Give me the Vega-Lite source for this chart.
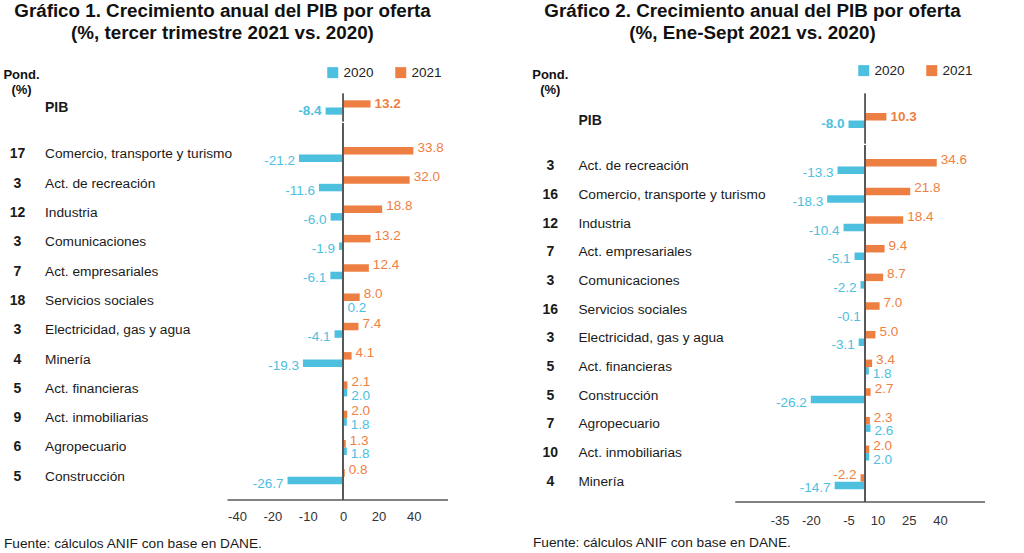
{
  "$schema": "https://vega.github.io/schema/vega-lite/v6.json",
  "background": "white",
  "padding": {"left": 3, "top": 1.5, "right": 0, "bottom": 0},
  "datasets": {
    "g1": [
      {"sector": "PIB", "pond": "", "year": "2020", "value": -8.4},
      {"sector": "PIB", "pond": "", "year": "2021", "value": 13.2},
      {"sector": "Comercio, transporte y turismo", "pond": "17", "year": "2020", "value": -21.2},
      {"sector": "Comercio, transporte y turismo", "pond": "17", "year": "2021", "value": 33.8},
      {"sector": "Act. de recreación", "pond": "3", "year": "2020", "value": -11.6},
      {"sector": "Act. de recreación", "pond": "3", "year": "2021", "value": 32.0},
      {"sector": "Industria", "pond": "12", "year": "2020", "value": -6.0},
      {"sector": "Industria", "pond": "12", "year": "2021", "value": 18.8},
      {"sector": "Comunicaciones", "pond": "3", "year": "2020", "value": -1.9},
      {"sector": "Comunicaciones", "pond": "3", "year": "2021", "value": 13.2},
      {"sector": "Act. empresariales", "pond": "7", "year": "2020", "value": -6.1},
      {"sector": "Act. empresariales", "pond": "7", "year": "2021", "value": 12.4},
      {"sector": "Servicios sociales", "pond": "18", "year": "2020", "value": 0.2},
      {"sector": "Servicios sociales", "pond": "18", "year": "2021", "value": 8.0},
      {"sector": "Electricidad, gas y agua", "pond": "3", "year": "2020", "value": -4.1},
      {"sector": "Electricidad, gas y agua", "pond": "3", "year": "2021", "value": 7.4},
      {"sector": "Minería", "pond": "4", "year": "2020", "value": -19.3},
      {"sector": "Minería", "pond": "4", "year": "2021", "value": 4.1},
      {"sector": "Act. financieras", "pond": "5", "year": "2020", "value": 2.0},
      {"sector": "Act. financieras", "pond": "5", "year": "2021", "value": 2.1},
      {"sector": "Act. inmobiliarias", "pond": "9", "year": "2020", "value": 1.8},
      {"sector": "Act. inmobiliarias", "pond": "9", "year": "2021", "value": 2.0},
      {"sector": "Agropecuario", "pond": "6", "year": "2020", "value": 1.8},
      {"sector": "Agropecuario", "pond": "6", "year": "2021", "value": 1.3},
      {"sector": "Construcción", "pond": "5", "year": "2020", "value": -26.7},
      {"sector": "Construcción", "pond": "5", "year": "2021", "value": 0.8}
    ],
    "g2": [
      {"sector": "PIB", "pond": "", "year": "2020", "value": -8.0},
      {"sector": "PIB", "pond": "", "year": "2021", "value": 10.3},
      {"sector": "Act. de recreación", "pond": "3", "year": "2020", "value": -13.3},
      {"sector": "Act. de recreación", "pond": "3", "year": "2021", "value": 34.6},
      {"sector": "Comercio, transporte y turismo", "pond": "16", "year": "2020", "value": -18.3},
      {"sector": "Comercio, transporte y turismo", "pond": "16", "year": "2021", "value": 21.8},
      {"sector": "Industria", "pond": "12", "year": "2020", "value": -10.4},
      {"sector": "Industria", "pond": "12", "year": "2021", "value": 18.4},
      {"sector": "Act. empresariales", "pond": "7", "year": "2020", "value": -5.1},
      {"sector": "Act. empresariales", "pond": "7", "year": "2021", "value": 9.4},
      {"sector": "Comunicaciones", "pond": "3", "year": "2020", "value": -2.2},
      {"sector": "Comunicaciones", "pond": "3", "year": "2021", "value": 8.7},
      {"sector": "Servicios sociales", "pond": "16", "year": "2020", "value": -0.1},
      {"sector": "Servicios sociales", "pond": "16", "year": "2021", "value": 7.0},
      {"sector": "Electricidad, gas y agua", "pond": "3", "year": "2020", "value": -3.1},
      {"sector": "Electricidad, gas y agua", "pond": "3", "year": "2021", "value": 5.0},
      {"sector": "Act. financieras", "pond": "5", "year": "2020", "value": 1.8},
      {"sector": "Act. financieras", "pond": "5", "year": "2021", "value": 3.4},
      {"sector": "Construcción", "pond": "5", "year": "2020", "value": -26.2},
      {"sector": "Construcción", "pond": "5", "year": "2021", "value": 2.7},
      {"sector": "Agropecuario", "pond": "7", "year": "2020", "value": 2.6},
      {"sector": "Agropecuario", "pond": "7", "year": "2021", "value": 2.3},
      {"sector": "Act. inmobiliarias", "pond": "10", "year": "2020", "value": 2.0},
      {"sector": "Act. inmobiliarias", "pond": "10", "year": "2021", "value": 2.0},
      {"sector": "Minería", "pond": "4", "year": "2020", "value": -14.7},
      {"sector": "Minería", "pond": "4", "year": "2021", "value": -2.2}
    ]
  },
  "spacing": 84,
  "resolve": {"scale": {"color": "independent", "yOffset": "independent"}, "legend": {"color": "independent"}},
  "hconcat": [
    {
      "title": {"text": ["Gráfico 1. Crecimiento anual del PIB por oferta", "(%, tercer trimestre 2021 vs. 2020)"], "fontSize": 18.8, "lineHeight": 22, "fontWeight": "bold", "color": "#111111", "anchor": "middle", "offset": 22.5, "dx": -3},
      "spacing": 0,
      "resolve": {"scale": {"yOffset": "independent"}},
      "vconcat": [
        {
          "spacing": 14,
          "bounds": "flush",
          "hconcat": [
            {
              "width": 27, "height": 28,
              "data": {"name": "g1"},
              "transform": [{"filter": "datum.sector == 'PIB' && datum.year == '2021'"}],
              "title": {"text": ["Pond.", "(%)"], "fontSize": 13, "lineHeight": 15, "fontWeight": "bold", "color": "#111111", "anchor": "middle", "offset": -3, "dx": 4},
              "mark": {"type": "text", "fontSize": 14, "fontWeight": "bold", "color": "#1a1a1a", "baseline": "middle"},
              "encoding": {
                "y": {"field": "sector", "type": "nominal", "sort": null, "axis": null, "scale": {"type": "band", "paddingInner": 0, "paddingOuter": 0}},
                "text": {"field": "pond", "type": "nominal"}
              }
            },
            {
              "width": 168, "height": 28,
              "data": {"name": "g1"},
              "transform": [{"filter": "datum.sector == 'PIB' && datum.year == '2021'"}],
              "mark": {"type": "text", "fontSize": 14, "fontWeight": "bold", "color": "#1a1a1a", "align": "left", "baseline": "middle"},
              "encoding": {
                "x": {"datum": 0, "type": "quantitative", "scale": {"domain": [0, 1]}, "axis": null},
                "y": {"field": "sector", "type": "nominal", "sort": null, "axis": null, "scale": {"type": "band", "paddingInner": 0, "paddingOuter": 0}},
                "text": {"field": "sector", "type": "nominal"}
              }
            },
            {
              "width": 220.5, "height": 28,
              "data": {"name": "g1"},
              "transform": [{"filter": "datum.sector == 'PIB'"}],
              "layer": [
                {
                  "mark": {"type": "bar"},
                  "encoding": {
                    "x": {"field": "value", "type": "quantitative", "scale": {"domain": [-55.8, 50.2], "nice": false, "zero": false}, "axis": null},
                    "y": {"field": "sector", "type": "nominal", "sort": null, "axis": null, "scale": {"type": "band", "paddingInner": 0, "paddingOuter": 0}},
                    "yOffset": {"field": "year", "type": "nominal", "sort": ["2021", "2020"], "scale": {"paddingInner": 0, "paddingOuter": 0.95}},
                    "color": {"field": "year", "type": "nominal", "scale": {"domain": ["2020", "2021"], "range": ["#4DC0E0", "#EE7F42"]},
                      "legend": {"orient": "none", "legendX": 322, "legendY": -28, "direction": "horizontal", "title": null, "symbolType": "square", "symbolSize": 121, "symbolStrokeWidth": 0, "labelFontSize": 13.5, "labelColor": "#222222", "labelOffset": 4, "columnPadding": 20}}
                  }
                },
                {
                  "transform": [{"filter": "datum.value >= 0"}],
                  "mark": {"type": "text", "align": "left", "dx": 4, "baseline": "middle", "fontSize": 13.5, "fontWeight": "bold"},
                  "encoding": {
                    "x": {"field": "value", "type": "quantitative"},
                    "y": {"field": "sector", "type": "nominal", "sort": null},
                    "yOffset": {"field": "year", "type": "nominal", "sort": ["2021", "2020"]},
                    "text": {"field": "value", "type": "quantitative", "format": ".1f"},
                    "color": {"field": "year", "type": "nominal", "legend": null}
                  }
                },
                {
                  "transform": [{"filter": "datum.value < 0"}],
                  "mark": {"type": "text", "align": "right", "dx": -4, "baseline": "middle", "fontSize": 13.5, "fontWeight": "bold"},
                  "encoding": {
                    "x": {"field": "value", "type": "quantitative"},
                    "y": {"field": "sector", "type": "nominal", "sort": null},
                    "yOffset": {"field": "year", "type": "nominal", "sort": ["2021", "2020"]},
                    "text": {"field": "value", "type": "quantitative", "format": ".1f"},
                    "color": {"field": "year", "type": "nominal", "legend": null}
                  }
                },
                {
                  "mark": {"type": "rule", "color": "#595959", "strokeWidth": 1.5},
                  "encoding": {"x": {"datum": 0, "type": "quantitative"}}
                }
              ]
            }
          ]
        },
        {
          "spacing": 14,
          "bounds": "flush",
          "title": {"text": "Fuente: cálculos ANIF con base en DANE.", "orient": "bottom", "anchor": "start", "frame": "group", "fontSize": 13.7, "fontWeight": "normal", "color": "#1a1a1a", "offset": 14},
          "hconcat": [
            {
              "width": 27, "height": 376,
              "data": {"name": "g1"},
              "transform": [{"filter": "datum.sector != 'PIB' && datum.year == '2021'"}],
              "mark": {"type": "text", "fontSize": 14, "fontWeight": "bold", "color": "#1a1a1a", "baseline": "middle"},
              "encoding": {
                "y": {"field": "sector", "type": "nominal", "sort": null, "axis": null, "scale": {"type": "band", "paddingInner": 0, "paddingOuter": 0.4164, "align": 0.67}},
                "text": {"field": "pond", "type": "nominal"}
              }
            },
            {
              "width": 168, "height": 376,
              "data": {"name": "g1"},
              "transform": [{"filter": "datum.sector != 'PIB' && datum.year == '2021'"}],
              "mark": {"type": "text", "fontSize": 13.7, "color": "#1a1a1a", "align": "left", "baseline": "middle"},
              "encoding": {
                "x": {"datum": 0, "type": "quantitative", "scale": {"domain": [0, 1]}, "axis": null},
                "y": {"field": "sector", "type": "nominal", "sort": null, "axis": null, "scale": {"type": "band", "paddingInner": 0, "paddingOuter": 0.4164, "align": 0.67}},
                "text": {"field": "sector", "type": "nominal"}
              }
            },
            {
              "width": 220.5, "height": 376,
              "data": {"name": "g1"},
              "transform": [{"filter": "datum.sector != 'PIB'"}],
              "layer": [
                {
                  "mark": {"type": "bar"},
                  "encoding": {
                    "x": {"field": "value", "type": "quantitative", "scale": {"domain": [-55.8, 50.2], "nice": false, "zero": false},
                      "axis": {"values": [-51, -34, -17, 0, 17, 34], "labelExpr": "datum.value == -51 ? '-40' : datum.value == -34 ? '-20' : datum.value == -17 ? '-10' : datum.value == 17 ? '20' : datum.value == 34 ? '40' : '0'", "title": null, "ticks": false, "tickSize": 0, "grid": false, "domainColor": "#595959", "domainWidth": 1.5, "labelFontSize": 13, "labelColor": "#333333", "labelPadding": 10.7, "labelFlush": false, "labelOverlap": false}},
                    "y": {"field": "sector", "type": "nominal", "sort": null, "axis": null, "scale": {"type": "band", "paddingInner": 0, "paddingOuter": 0.4164, "align": 0.67}},
                    "yOffset": {"field": "year", "type": "nominal", "sort": ["2021", "2020"], "scale": {"paddingInner": 0, "paddingOuter": 0.95}},
                    "color": {"field": "year", "type": "nominal", "scale": {"domain": ["2020", "2021"], "range": ["#4DC0E0", "#EE7F42"]},
                      "legend": {"orient": "none", "legendX": 322, "legendY": -28, "direction": "horizontal", "title": null, "symbolType": "square", "symbolSize": 121, "symbolStrokeWidth": 0, "labelFontSize": 13.5, "labelColor": "#222222", "labelOffset": 4, "columnPadding": 20}}
                  }
                },
                {
                  "transform": [{"filter": "datum.value >= 0 && datum.year == '2021'"}],
                  "mark": {"type": "text", "align": "left", "dx": 4, "dy": -3, "baseline": "middle", "fontSize": 13.5},
                  "encoding": {
                    "x": {"field": "value", "type": "quantitative"},
                    "y": {"field": "sector", "type": "nominal", "sort": null},
                    "yOffset": {"field": "year", "type": "nominal", "sort": ["2021", "2020"]},
                    "text": {"field": "value", "type": "quantitative", "format": ".1f"},
                    "color": {"field": "year", "type": "nominal", "legend": null}
                  }
                },
                {
                  "transform": [{"filter": "datum.value >= 0 && datum.year == '2020'"}],
                  "mark": {"type": "text", "align": "left", "dx": 4, "dy": 3, "baseline": "middle", "fontSize": 13.5},
                  "encoding": {
                    "x": {"field": "value", "type": "quantitative"},
                    "y": {"field": "sector", "type": "nominal", "sort": null},
                    "yOffset": {"field": "year", "type": "nominal", "sort": ["2021", "2020"]},
                    "text": {"field": "value", "type": "quantitative", "format": ".1f"},
                    "color": {"field": "year", "type": "nominal", "legend": null}
                  }
                },
                {
                  "transform": [{"filter": "datum.value < 0 && datum.year == '2021'"}],
                  "mark": {"type": "text", "align": "right", "dx": -4, "dy": -3, "baseline": "middle", "fontSize": 13.5},
                  "encoding": {
                    "x": {"field": "value", "type": "quantitative"},
                    "y": {"field": "sector", "type": "nominal", "sort": null},
                    "yOffset": {"field": "year", "type": "nominal", "sort": ["2021", "2020"]},
                    "text": {"field": "value", "type": "quantitative", "format": ".1f"},
                    "color": {"field": "year", "type": "nominal", "legend": null}
                  }
                },
                {
                  "transform": [{"filter": "datum.value < 0 && datum.year == '2020'"}],
                  "mark": {"type": "text", "align": "right", "dx": -4, "dy": 3, "baseline": "middle", "fontSize": 13.5},
                  "encoding": {
                    "x": {"field": "value", "type": "quantitative"},
                    "y": {"field": "sector", "type": "nominal", "sort": null},
                    "yOffset": {"field": "year", "type": "nominal", "sort": ["2021", "2020"]},
                    "text": {"field": "value", "type": "quantitative", "format": ".1f"},
                    "color": {"field": "year", "type": "nominal", "legend": null}
                  }
                },
                {
                  "mark": {"type": "rule", "color": "#595959", "strokeWidth": 1.5},
                  "encoding": {"x": {"datum": 0, "type": "quantitative"}}
                }
              ]
            }
          ]
        }
      ]
    },
    {
      "title": {"text": ["Gráfico 2. Crecimiento anual del PIB por oferta", "(%, Ene-Sept 2021 vs. 2020)"], "fontSize": 18.8, "lineHeight": 22, "fontWeight": "bold", "color": "#111111", "anchor": "middle", "offset": 20.5, "dx": -6},
      "spacing": 0,
      "resolve": {"scale": {"yOffset": "independent"}},
      "vconcat": [
        {
          "spacing": 10.4,
          "bounds": "flush",
          "hconcat": [
            {
              "width": 34.6, "height": 50,
              "data": {"name": "g2"},
              "transform": [{"filter": "datum.sector == 'PIB' && datum.year == '2021'"}],
              "title": {"text": ["Pond.", "(%)"], "fontSize": 13, "lineHeight": 15, "fontWeight": "bold", "color": "#111111", "anchor": "middle", "offset": -3},
              "mark": {"type": "text", "fontSize": 14, "fontWeight": "bold", "color": "#1a1a1a", "baseline": "middle"},
              "encoding": {
                "y": {"field": "sector", "type": "nominal", "sort": null, "axis": null, "scale": {"type": "band", "paddingInner": 0, "paddingOuter": 0.3723, "align": 0.594}},
                "text": {"field": "pond", "type": "nominal"}
              }
            },
            {
              "width": 146, "height": 50,
              "data": {"name": "g2"},
              "transform": [{"filter": "datum.sector == 'PIB' && datum.year == '2021'"}],
              "mark": {"type": "text", "fontSize": 14, "fontWeight": "bold", "color": "#1a1a1a", "align": "left", "baseline": "middle"},
              "encoding": {
                "x": {"datum": 0, "type": "quantitative", "scale": {"domain": [0, 1]}, "axis": null},
                "y": {"field": "sector", "type": "nominal", "sort": null, "axis": null, "scale": {"type": "band", "paddingInner": 0, "paddingOuter": 0.3723, "align": 0.594}},
                "text": {"field": "sector", "type": "nominal"}
              }
            },
            {
              "width": 250, "height": 50,
              "data": {"name": "g2"},
              "transform": [{"filter": "datum.sector == 'PIB'"}],
              "layer": [
                {
                  "mark": {"type": "bar"},
                  "encoding": {
                    "x": {"field": "value", "type": "quantitative", "scale": {"domain": [-62.9, 57.8], "nice": false, "zero": false}, "axis": null},
                    "y": {"field": "sector", "type": "nominal", "sort": null, "axis": null, "scale": {"type": "band", "paddingInner": 0, "paddingOuter": 0.3723, "align": 0.594}},
                    "yOffset": {"field": "year", "type": "nominal", "sort": ["2021", "2020"], "scale": {"paddingInner": 0, "paddingOuter": 0.91}},
                    "color": {"field": "year", "type": "nominal", "scale": {"domain": ["2020", "2021"], "range": ["#4DC0E0", "#EE7F42"]},
                      "legend": {"orient": "none", "legendX": 324, "legendY": -30, "direction": "horizontal", "title": null, "symbolType": "square", "symbolSize": 121, "symbolStrokeWidth": 0, "labelFontSize": 13.5, "labelColor": "#222222", "labelOffset": 4, "columnPadding": 20}}
                  }
                },
                {
                  "transform": [{"filter": "datum.value >= 0"}],
                  "mark": {"type": "text", "align": "left", "dx": 4, "baseline": "middle", "fontSize": 13.5, "fontWeight": "bold"},
                  "encoding": {
                    "x": {"field": "value", "type": "quantitative"},
                    "y": {"field": "sector", "type": "nominal", "sort": null},
                    "yOffset": {"field": "year", "type": "nominal", "sort": ["2021", "2020"]},
                    "text": {"field": "value", "type": "quantitative", "format": ".1f"},
                    "color": {"field": "year", "type": "nominal", "legend": null}
                  }
                },
                {
                  "transform": [{"filter": "datum.value < 0"}],
                  "mark": {"type": "text", "align": "right", "dx": -4, "baseline": "middle", "fontSize": 13.5, "fontWeight": "bold"},
                  "encoding": {
                    "x": {"field": "value", "type": "quantitative"},
                    "y": {"field": "sector", "type": "nominal", "sort": null},
                    "yOffset": {"field": "year", "type": "nominal", "sort": ["2021", "2020"]},
                    "text": {"field": "value", "type": "quantitative", "format": ".1f"},
                    "color": {"field": "year", "type": "nominal", "legend": null}
                  }
                },
                {
                  "mark": {"type": "rule", "color": "#595959", "strokeWidth": 1.5},
                  "encoding": {"x": {"datum": 0, "type": "quantitative"}}
                }
              ]
            }
          ]
        },
        {
          "spacing": 10.4,
          "bounds": "flush",
          "title": {"text": "Fuente: cálculos ANIF con base en DANE.", "orient": "bottom", "anchor": "start", "frame": "group", "fontSize": 13.7, "fontWeight": "normal", "color": "#1a1a1a", "offset": 9},
          "hconcat": [
            {
              "width": 34.6, "height": 356,
              "data": {"name": "g2"},
              "transform": [{"filter": "datum.sector != 'PIB' && datum.year == '2021'"}],
              "mark": {"type": "text", "fontSize": 14, "fontWeight": "bold", "color": "#1a1a1a", "baseline": "middle"},
              "encoding": {
                "y": {"field": "sector", "type": "nominal", "sort": null, "axis": null, "scale": {"type": "band", "paddingInner": 0, "paddingOuter": 0.211, "align": 0.55}},
                "text": {"field": "pond", "type": "nominal"}
              }
            },
            {
              "width": 146, "height": 356,
              "data": {"name": "g2"},
              "transform": [{"filter": "datum.sector != 'PIB' && datum.year == '2021'"}],
              "mark": {"type": "text", "fontSize": 13.7, "color": "#1a1a1a", "align": "left", "baseline": "middle"},
              "encoding": {
                "x": {"datum": 0, "type": "quantitative", "scale": {"domain": [0, 1]}, "axis": null},
                "y": {"field": "sector", "type": "nominal", "sort": null, "axis": null, "scale": {"type": "band", "paddingInner": 0, "paddingOuter": 0.211, "align": 0.55}},
                "text": {"field": "sector", "type": "nominal"}
              }
            },
            {
              "width": 250, "height": 356,
              "data": {"name": "g2"},
              "transform": [{"filter": "datum.sector != 'PIB'"}],
              "layer": [
                {
                  "mark": {"type": "bar"},
                  "encoding": {
                    "x": {"field": "value", "type": "quantitative", "scale": {"domain": [-62.9, 57.8], "nice": false, "zero": false},
                      "axis": {"values": [-41.3, -26.2, -8, 6, 21.1, 36.2], "labelExpr": "datum.value == -41.3 ? '-35' : datum.value == -26.2 ? '-20' : datum.value == -8 ? '-5' : datum.value == 6 ? '10' : datum.value == 21.1 ? '25' : '40'", "title": null, "ticks": false, "tickSize": 0, "grid": false, "domainColor": "#595959", "domainWidth": 1.5, "labelFontSize": 13, "labelColor": "#333333", "labelPadding": 12.7, "labelFlush": false, "labelOverlap": false}},
                    "y": {"field": "sector", "type": "nominal", "sort": null, "axis": null, "scale": {"type": "band", "paddingInner": 0, "paddingOuter": 0.211, "align": 0.55}},
                    "yOffset": {"field": "year", "type": "nominal", "sort": ["2021", "2020"], "scale": {"paddingInner": 0, "paddingOuter": 0.91}},
                    "color": {"field": "year", "type": "nominal", "scale": {"domain": ["2020", "2021"], "range": ["#4DC0E0", "#EE7F42"]},
                      "legend": {"orient": "none", "legendX": 324, "legendY": -30, "direction": "horizontal", "title": null, "symbolType": "square", "symbolSize": 121, "symbolStrokeWidth": 0, "labelFontSize": 13.5, "labelColor": "#222222", "labelOffset": 4, "columnPadding": 20}}
                  }
                },
                {
                  "transform": [{"filter": "datum.value >= 0 && datum.year == '2021'"}],
                  "mark": {"type": "text", "align": "left", "dx": 4, "dy": -3, "baseline": "middle", "fontSize": 13.5},
                  "encoding": {
                    "x": {"field": "value", "type": "quantitative"},
                    "y": {"field": "sector", "type": "nominal", "sort": null},
                    "yOffset": {"field": "year", "type": "nominal", "sort": ["2021", "2020"]},
                    "text": {"field": "value", "type": "quantitative", "format": ".1f"},
                    "color": {"field": "year", "type": "nominal", "legend": null}
                  }
                },
                {
                  "transform": [{"filter": "datum.value >= 0 && datum.year == '2020'"}],
                  "mark": {"type": "text", "align": "left", "dx": 4, "dy": 3, "baseline": "middle", "fontSize": 13.5},
                  "encoding": {
                    "x": {"field": "value", "type": "quantitative"},
                    "y": {"field": "sector", "type": "nominal", "sort": null},
                    "yOffset": {"field": "year", "type": "nominal", "sort": ["2021", "2020"]},
                    "text": {"field": "value", "type": "quantitative", "format": ".1f"},
                    "color": {"field": "year", "type": "nominal", "legend": null}
                  }
                },
                {
                  "transform": [{"filter": "datum.value < 0 && datum.year == '2021'"}],
                  "mark": {"type": "text", "align": "right", "dx": -4, "dy": -3, "baseline": "middle", "fontSize": 13.5},
                  "encoding": {
                    "x": {"field": "value", "type": "quantitative"},
                    "y": {"field": "sector", "type": "nominal", "sort": null},
                    "yOffset": {"field": "year", "type": "nominal", "sort": ["2021", "2020"]},
                    "text": {"field": "value", "type": "quantitative", "format": ".1f"},
                    "color": {"field": "year", "type": "nominal", "legend": null}
                  }
                },
                {
                  "transform": [{"filter": "datum.value < 0 && datum.year == '2020'"}],
                  "mark": {"type": "text", "align": "right", "dx": -4, "dy": 3, "baseline": "middle", "fontSize": 13.5},
                  "encoding": {
                    "x": {"field": "value", "type": "quantitative"},
                    "y": {"field": "sector", "type": "nominal", "sort": null},
                    "yOffset": {"field": "year", "type": "nominal", "sort": ["2021", "2020"]},
                    "text": {"field": "value", "type": "quantitative", "format": ".1f"},
                    "color": {"field": "year", "type": "nominal", "legend": null}
                  }
                },
                {
                  "mark": {"type": "rule", "color": "#595959", "strokeWidth": 1.5},
                  "encoding": {"x": {"datum": 0, "type": "quantitative"}}
                }
              ]
            }
          ]
        }
      ]
    }
  ],
  "config": {
    "font": "Liberation Sans",
    "view": {"stroke": null},
    "axis": {"grid": false},
    "locale": {"number": {"decimal": ".", "thousands": ",", "grouping": [3], "currency": ["$", ""], "minus": "-"}}
  }
}
